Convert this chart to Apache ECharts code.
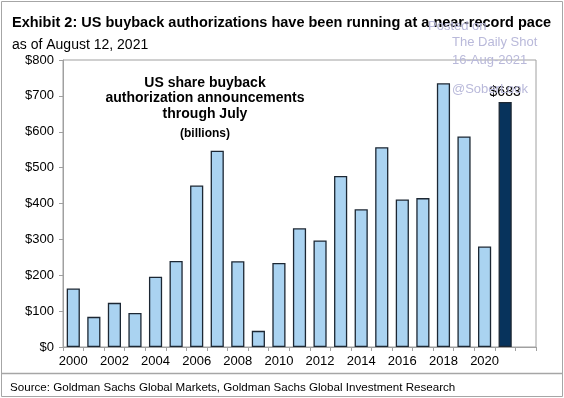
<!DOCTYPE html>
<html>
<head>
<meta charset="utf-8">
<script src="https://cdn.jsdelivr.net/npm/echarts@6/dist/echarts.min.js"></script>
<style>
html, body { margin: 0; padding: 0; background: #fff; }
#chart { width: 564px; height: 398px; }
</style>
</head>
<body>
<div id="chart"></div>
<script>
var years = ["2000", "2001", "2002", "2003", "2004", "2005", "2006", "2007", "2008", "2009", "2010",
	"2011", "2012", "2013", "2014", "2015", "2016", "2017", "2018", "2019", "2020", "2021", "2022"];
// authorizations through July, $bn (2022 slot is empty on the axis)
var buybacks = [163, 84, 123, 95, 196, 240, 450, 547, 239, 45, 234,
	331, 297, 477, 384, 557, 411, 415, 735, 587, 280, 683, null];
var yTicks = [0, 100, 200, 300, 400, 500, 600, 700, 800];
var lastYear = "2021";

var font = "Liberation Sans, Arial, sans-serif";
var chart = echarts.init(document.getElementById("chart"));

var barData = buybacks.map(function(v, i) {
	if (years[i] === lastYear) {
		return {
			value: v,
			itemStyle: { color: "#07335c" },
			label: { show: true, position: "top", formatter: "${c}", color: "#000", fontSize: 14, fontFamily: font, distance: 3 }
		};
	}
	return v;
});

var option = {
	animation: false,
	textStyle: { fontFamily: font },
	title: [{
		text: "Exhibit 2: US buyback authorizations have been running at a near-record pace",
		left: 7, top: 10,
		textStyle: { fontSize: 14.5, fontWeight: "bold", color: "#000", fontFamily: font }
	}, {
		text: "as of August 12, 2021",
		left: 7, top: 33,
		textStyle: { fontSize: 14, fontWeight: "normal", color: "#000", fontFamily: font }
	}, {
		text: "Source: Goldman Sachs Global Markets, Goldman Sachs Global Investment Research",
		left: 5, top: 377,
		textStyle: { fontSize: 11.6, fontWeight: "normal", color: "#000", fontFamily: font }
	}, {
		text: "US share buyback\nauthorization announcements\nthrough July",
		left: 200, top: 70, textAlign: "center",
		textStyle: { fontSize: 14, fontWeight: "bold", color: "#000", lineHeight: 15.5, fontFamily: font }
	}, {
		text: "(billions)",
		left: 200, top: 123, textAlign: "center",
		textStyle: { fontSize: 12, fontWeight: "bold", color: "#000", fontFamily: font }
	}],
	graphic: [
		{ type: "rect", shape: { x: 1.5, y: 1.5, width: 561, height: 395 }, style: { fill: "none", stroke: "#a6a6a6", lineWidth: 1 }, silent: true },
		{ type: "line", shape: { x1: 2, y1: 373.5, x2: 562, y2: 373.5 }, style: { stroke: "#a6a6a6", lineWidth: 1.5 }, silent: true },
		{ type: "text", left: 428, top: 20, style: { text: "Posted on", fill: "#b9b9da", font: "13px " + font }, silent: true, z: 10 },
		{ type: "text", left: 452, top: 36, style: { text: "The Daily Shot", fill: "#b9b9da", font: "13px " + font }, silent: true, z: 10 },
		{ type: "text", left: 452, top: 54, style: { text: "16-Aug-2021", fill: "#b9b9da", font: "13px " + font }, silent: true, z: 10 },
		{ type: "text", left: 452, top: 83, style: { text: "@SoberLook", fill: "#b9b9da", font: "13px " + font }, silent: true, z: 10 }
	],
	grid: {
		left: 63, right: 28, top: 60, bottom: 51,
		show: true, borderColor: "#a0a0a0", borderWidth: 1
	},
	xAxis: {
		type: "category",
		data: years,
		axisLine: { lineStyle: { color: "#a0a0a0" } },
		axisTick: { show: true, interval: 0, length: 4, lineStyle: { color: "#a0a0a0" } },
		axisLabel: {
			interval: 1, color: "#000", fontSize: 13, margin: 8, fontFamily: font,
			formatter: function(v) { return v === "2022" ? "" : v; }
		}
	},
	yAxis: {
		type: "value",
		min: yTicks[0], max: yTicks[yTicks.length - 1], interval: 100,
		splitLine: { show: false },
		axisLine: { show: true, lineStyle: { color: "#a0a0a0" } },
		axisTick: { show: true, length: 4, lineStyle: { color: "#a0a0a0" } },
		axisLabel: { color: "#000", fontSize: 13, margin: 9, fontFamily: font, formatter: "${value}" }
	},
	series: [{
		type: "bar",
		data: barData,
		barCategoryGap: "36%",
		itemStyle: { color: "#aad3f1", borderColor: "#1c2733", borderWidth: 1.3 }
	}]
};
chart.setOption(option);
</script>
</body>
</html>
